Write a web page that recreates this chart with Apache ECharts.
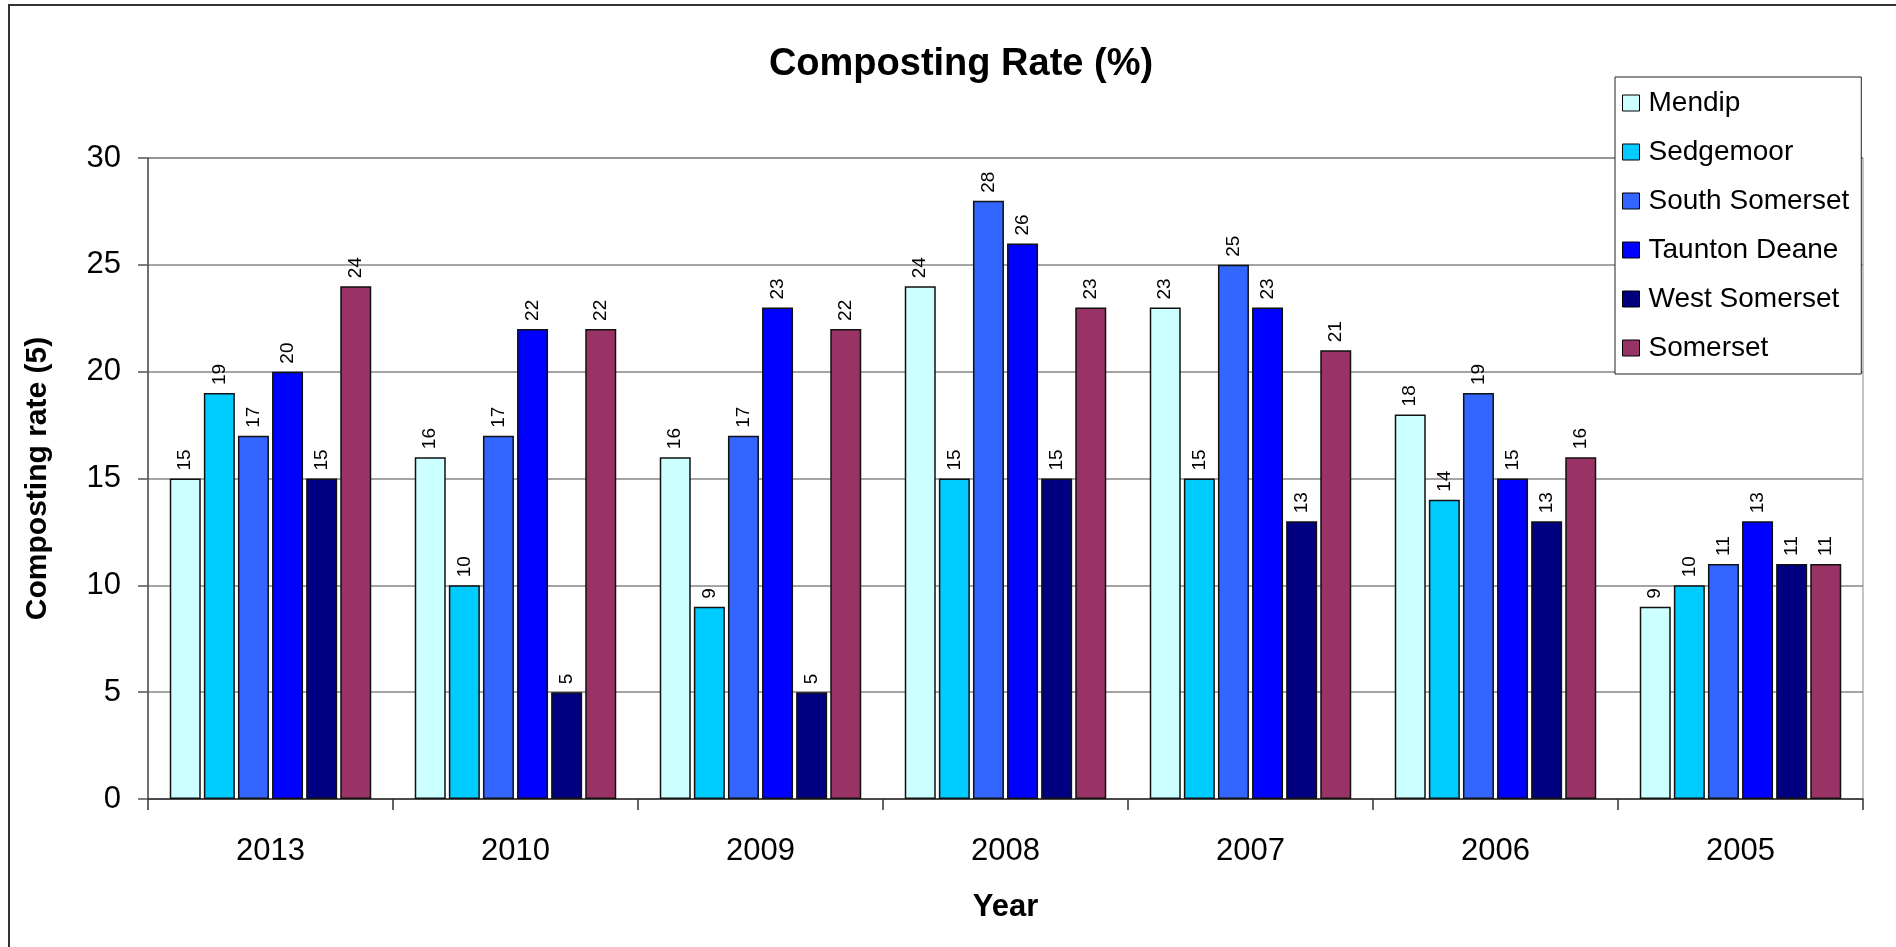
<!DOCTYPE html>
<html>
<head>
<meta charset="utf-8">
<title>Composting Rate (%)</title>
<script src="https://cdn.jsdelivr.net/npm/echarts@6/dist/echarts.min.js"></script>
<style>
  html, body { margin: 0; padding: 0; background: #fff; }
  #chart { width: 1896px; height: 947px; }
</style>
</head>
<body>
<div id="chart"></div>
<script>
// Years shown along the category axis
const years = ['2013', '2010', '2009', '2008', '2007', '2006', '2005'];

// Composting rate (%) per district, in the same order as the years
const mendip        = [15, 16, 16, 24, 23, 18, 9];
const sedgemoor     = [19, 10, 9, 15, 15, 14, 10];
const southSomerset = [17, 17, 17, 28, 25, 19, 11];
const tauntonDeane  = [20, 22, 23, 26, 23, 15, 13];
const westSomerset  = [15, 5, 5, 15, 13, 13, 11];
const somerset      = [24, 22, 22, 23, 21, 16, 11];

// Value axis ticks
const yMin = 0, yMax = 30, yStep = 5;

const FONT = '"Liberation Sans", Arial, sans-serif';

const seriesDefs = [
  { name: 'Mendip',         data: mendip,        color: '#CCFFFF' },
  { name: 'Sedgemoor',      data: sedgemoor,     color: '#00CCFF' },
  { name: 'South Somerset', data: southSomerset, color: '#3366FF' },
  { name: 'Taunton Deane',  data: tauntonDeane,  color: '#0000FF' },
  { name: 'West Somerset',  data: westSomerset,  color: '#000080' },
  { name: 'Somerset',       data: somerset,      color: '#993366' }
];

const chart = echarts.init(document.getElementById('chart'), null, { renderer: 'canvas' });

chart.setOption({
  animation: false,
  backgroundColor: '#ffffff',
  textStyle: { fontFamily: FONT },
  graphic: [
    {
      // outer frame (left and top edges fall inside the canvas)
      type: 'rect',
      shape: { x: 9, y: 5, width: 2000, height: 1000 },
      style: { fill: 'none', stroke: '#333333', lineWidth: 2 },
      z: 0
    }
  ],
  title: {
    text: 'Composting Rate (%)',
    left: 956,
    textAlign: 'center',
    top: 41,
    textStyle: { fontFamily: FONT, fontSize: 38, fontWeight: 'bold', color: '#000' }
  },
  legend: {
    orient: 'vertical',
    left: 1615,
    top: 77,
    padding: [11, 12, 11, 7],
    itemGap: 19,
    itemWidth: 17,
    itemHeight: 16,
    backgroundColor: '#ffffff',
    borderColor: '#222222',
    borderWidth: 1,
    icon: 'rect',
    itemStyle: { borderColor: '#000', borderWidth: 1 },
    textStyle: {
      fontFamily: FONT, fontSize: 28, color: '#000',
      lineHeight: 30, padding: [0, 0, 0, 4]
    },
    z: 10
  },
  grid: {
    left: 148,
    right: 33,
    top: 158,
    bottom: 148,
    show: true,
    borderColor: '#888888',
    borderWidth: 1,
    backgroundColor: 'transparent'
  },
  xAxis: {
    type: 'category',
    data: years,
    name: 'Year',
    nameLocation: 'middle',
    nameGap: 93,
    nameTextStyle: { fontFamily: FONT, fontSize: 31, fontWeight: 'bold', color: '#000' },
    axisLine: { show: true, lineStyle: { color: '#333333', width: 1.5 } },
    axisTick: { show: true, length: 11, lineStyle: { color: '#333333', width: 1.5 } },
    axisLabel: { margin: 37, fontFamily: FONT, fontSize: 31, color: '#000' },
    splitLine: { show: false }
  },
  yAxis: {
    type: 'value',
    min: yMin,
    max: yMax,
    interval: yStep,
    name: 'Composting rate (5)',
    nameLocation: 'middle',
    nameGap: 95,
    nameRotate: 90,
    nameTextStyle: { fontFamily: FONT, fontSize: 30, fontWeight: 'bold', color: '#000' },
    axisLine: { show: true, lineStyle: { color: '#555555', width: 1.5 } },
    axisTick: { show: true, inside: false, length: 10, lineStyle: { color: '#555555', width: 1.5 } },
    axisLabel: { margin: 27, fontFamily: FONT, fontSize: 31, color: '#000' },
    splitLine: { show: true, lineStyle: { color: '#868686', width: 1.5 } }
  },
  series: seriesDefs.map(s => ({
    name: s.name,
    type: 'bar',
    data: s.data,
    barWidth: 31,
    barGap: '10%',
    itemStyle: { color: s.color, borderColor: '#111111', borderWidth: 1.5 },
    label: {
      show: true,
      position: 'top',
      distance: 8,
      rotate: 90,
      align: 'left',
      verticalAlign: 'middle',
      fontFamily: FONT,
      fontSize: 19,
      color: '#000'
    }
  }))
});
</script>
</body>
</html>
